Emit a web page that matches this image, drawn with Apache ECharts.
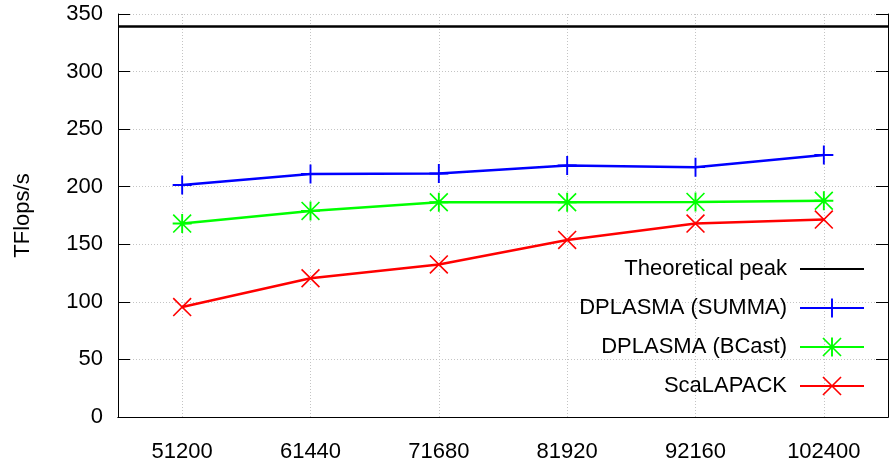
<!DOCTYPE html>
<html>
<head>
<meta charset="utf-8">
<script src="https://cdn.jsdelivr.net/npm/echarts@6/dist/echarts.min.js"></script>
<style>
  html, body { margin: 0; padding: 0; background: #fff; }
  #main { width: 889px; height: 461px; }
</style>
</head>
<body>
<div id="main"></div>
<script>
// matrix sizes (x axis)
var sizes = ['51200', '61440', '71680', '81920', '92160', '102400'];
var peak = 339;
var summa = [201.5, 211, 211.5, 218.5, 217, 227.5];
var bcast = [168, 179, 186.5, 186.5, 186.8, 187.8];
var scalapack = [95.5, 120.5, 132.5, 153.8, 168, 171.5];

// gnuplot-like point types
var plusSym = 'path://M-1,-10H1V-1H10V1H1V10H-1V1H-10V-1H-1Z';
var crossSym = 'path://M-10,-8.8L-8.8,-10L10,8.8L8.8,10Z M8.8,-10L10,-8.8L-8.8,10L-10,8.8Z';
var starSym = 'path://M-1,-10H1V-1H10V1H1V10H-1V1H-10V-1H-1Z M-10,-8.8L-8.8,-10L10,8.8L8.8,10Z M8.8,-10L10,-8.8L-8.8,10L-10,8.8Z';

var font = 'Liberation Sans, Arial, Helvetica, sans-serif';
var gridLine = { color: '#c4c4c4', type: [1, 2], width: 1 };

var chart = echarts.init(document.getElementById('main'));
chart.setOption({
  animation: false,
  textStyle: { fontFamily: font, color: '#000' },
  grid: { left: 118, right: 1, top: 14, bottom: 44, outerBoundsMode: 'none', containLabel: false },
  legend: {
    orient: 'vertical',
    right: 19,
    top: 253,
    align: 'right',
    itemWidth: 64,
    itemHeight: 24,
    itemGap: 17,
    textStyle: { fontSize: 22, color: '#000', fontFamily: font, padding: [0, 8, 0, 0] },
    data: [
      { name: 'Theoretical peak', itemStyle: { opacity: 0 } },
      'DPLASMA (SUMMA)', 'DPLASMA (BCast)', 'ScaLAPACK'
    ]
  },
  xAxis: [
    {
      type: 'category',
      data: sizes,
      position: 'bottom',
      axisLine: { lineStyle: { color: '#000', width: 1 } },
      axisTick: { inside: true, length: 12, alignWithLabel: true, lineStyle: { color: '#000' } },
      axisLabel: { fontSize: 22, color: '#000', margin: 24, fontFamily: font },
      splitLine: { show: true, alignWithLabel: true, lineStyle: gridLine }
    },
    {
      type: 'category',
      data: sizes,
      position: 'top',
      axisLine: { lineStyle: { color: '#000', width: 1 } },
      axisTick: { inside: true, length: 12, alignWithLabel: true, lineStyle: { color: '#000' } },
      axisLabel: { show: false },
      splitLine: { show: false }
    }
  ],
  yAxis: [
    {
      type: 'value',
      min: 0, max: 350, interval: 50,
      name: 'TFlops/s',
      nameLocation: 'middle',
      nameGap: 84,
      nameTextStyle: { fontSize: 22, color: '#000', fontFamily: font },
      axisLine: { show: true, lineStyle: { color: '#000', width: 1 } },
      axisTick: { show: true, inside: true, length: 12, lineStyle: { color: '#000' } },
      axisLabel: { fontSize: 22, color: '#000', margin: 15, fontFamily: font },
      splitLine: { show: true, lineStyle: gridLine }
    },
    {
      type: 'value',
      min: 0, max: 350, interval: 50,
      position: 'right',
      axisLine: { show: true, lineStyle: { color: '#000', width: 1 } },
      axisTick: { show: true, inside: true, length: 12, lineStyle: { color: '#000' } },
      axisLabel: { show: false },
      splitLine: { show: false }
    }
  ],
  series: [
    {
      name: 'Theoretical peak',
      type: 'line',
      data: [],
      symbol: 'none',
      itemStyle: { color: '#000' },
      lineStyle: { color: '#000', width: 2.5 },
      markLine: {
        silent: true,
        symbol: 'none',
        label: { show: false },
        lineStyle: { color: '#000', width: 2.5, type: 'solid' },
        data: [{ yAxis: peak }]
      }
    },
    {
      name: 'DPLASMA (SUMMA)',
      type: 'line',
      data: summa,
      symbol: plusSym,
      symbolSize: 19,
      itemStyle: { color: '#0000ff' },
      lineStyle: { color: '#0000ff', width: 2.5 }
    },
    {
      name: 'DPLASMA (BCast)',
      type: 'line',
      data: bcast,
      symbol: starSym,
      symbolSize: 19,
      itemStyle: { color: '#00ff00' },
      lineStyle: { color: '#00ff00', width: 2.5 }
    },
    {
      name: 'ScaLAPACK',
      type: 'line',
      data: scalapack,
      symbol: crossSym,
      symbolSize: 19,
      itemStyle: { color: '#ff0000' },
      lineStyle: { color: '#ff0000', width: 2.5 }
    }
  ]
});
</script>
</body>
</html>
